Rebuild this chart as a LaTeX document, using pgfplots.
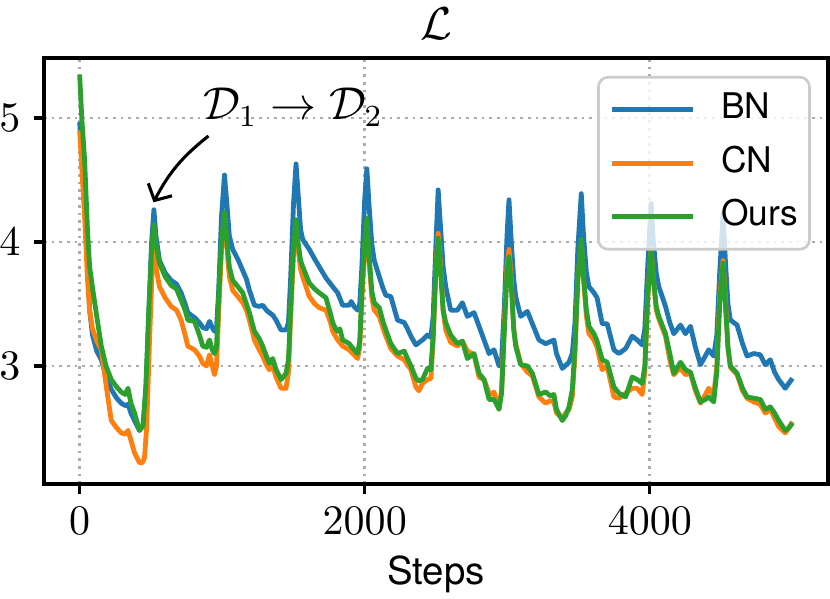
\documentclass[border=0pt]{standalone}
\usepackage{fontspec}
\setsansfont{TeX Gyre Heros}
\usepackage{pgfplots}
\pgfplotsset{compat=1.18}
\usetikzlibrary{arrows.meta}
\definecolor{cBN}{HTML}{1F77B4}
\definecolor{cCN}{HTML}{FF7F0E}
\definecolor{cOurs}{HTML}{2CA02C}
\begin{document}
\begin{tikzpicture}
\begin{axis}[
  scale only axis,
  width=204.17pt, height=110.94pt,
  xmin=-250, xmax=5250, ymin=2.048, ymax=5.484,
  xtick={0,2000,4000}, ytick={3,4,5},
  scaled x ticks=false,
  xticklabel style={/pgf/number format/1000 sep={}},
  tick align=outside, xtick pos=bottom, ytick pos=left,
  major tick length=2.6pt,
  every tick/.style={black, line width=0.8pt},
  axis line style={line width=0.8pt},
  ticklabel style={font=\fontsize{10.8}{12}\selectfont},
  grid=major,
  major grid style={black!33, line width=0.7pt, dash pattern=on 0.7pt off 1.3pt},
  title={$\mathcal{L}$},
  title style={font=\fontsize{13}{15}\selectfont, at={(0.5,1)}, anchor=base, inner sep=0pt, yshift=-1.3pt},
  xlabel={Steps},
  xlabel style={font=\sffamily\fontsize{10}{12}\selectfont, at={(0.5,0)}, anchor=base, inner sep=0pt, yshift=-26.3pt},
  legend style={at={(0.978,0.958)}, anchor=north east, draw=black!20, line width=0.7pt,
    rounded corners=2.5pt, fill=white, fill opacity=0.8, draw opacity=1, text opacity=1,
    font=\sffamily\fontsize{9.2}{11}\selectfont, inner xsep=3.0pt, inner ysep=4pt, row sep=4.9pt,
    nodes={inner sep=0pt, text height=6.8pt, text depth=2.2pt},
    /tikz/every odd column/.append style={column sep=6.8pt}},
  legend cell align=left,
  legend image code/.code={\draw[#1, line width=1.25pt] (0pt,0pt) -- (20.9pt,0pt);},
  every axis plot/.append style={line width=1.25pt, line join=round},
]
\addplot[cBN] coordinates {
(0,4.97) (15,4.70) (35,4.40) (55,3.90) (70,3.45) (90,3.25) (120,3.12) (152,3.05) (185,2.92) (222,2.81)
(260,2.74) (292,2.70) (320,2.68) (339,2.69) (360,2.62) (385,2.56) (420,2.48) (445,2.52) (465,2.80) (485,3.40)
(505,4.00) (521,4.26) (535,4.05) (560,3.85) (600,3.75) (642,3.69) (680,3.66) (712,3.59) (740,3.50) (759,3.43)
(806,3.39) (840,3.35) (864,3.31) (890,3.30) (911,3.36) (930,3.31) (946,3.28) (960,3.30) (975,3.60) (995,4.20)
(1016,4.54) (1030,4.35) (1050,4.05) (1074,3.94) (1110,3.86) (1144,3.77) (1170,3.70) (1191,3.61) (1226,3.49) (1260,3.48)
(1284,3.49) (1310,3.45) (1331,3.43) (1355,3.41) (1378,3.37) (1413,3.29) (1448,3.29) (1465,3.35) (1480,3.70) (1500,4.30)
(1518,4.63) (1532,4.40) (1550,4.10) (1565,4.02) (1611,3.94) (1650,3.86) (1681,3.80) (1728,3.71) (1775,3.64) (1810,3.59)
(1845,3.49) (1891,3.49) (1905,3.52) (1925,3.48) (1950,3.45) (1965,3.50) (1980,3.80) (2000,4.35) (2015,4.59) (2030,4.30)
(2050,3.98) (2067,3.85) (2102,3.72) (2130,3.62) (2148,3.57) (2183,3.56) (2230,3.37) (2277,3.35) (2300,3.30) (2324,3.24)
(2359,3.17) (2405,3.21) (2440,3.25) (2464,3.23) (2480,3.40) (2500,4.00) (2515,4.42) (2530,4.15) (2550,3.80) (2568,3.64)
(2603,3.45) (2650,3.45) (2685,3.51) (2720,3.40) (2767,3.43) (2802,3.32) (2837,3.21) (2872,3.10) (2907,3.13) (2942,3.00)
(2960,3.05) (2980,3.50) (2998,4.05) (3012,4.34) (3028,4.00) (3045,3.70) (3059,3.56) (3094,3.40) (3141,3.44) (3176,3.34)
(3222,3.21) (3269,3.18) (3310,3.20) (3327,3.21) (3345,3.10) (3386,2.98) (3433,3.03) (3456,3.10) (3475,3.35) (3495,3.95)
(3519,4.39) (3535,4.05) (3555,3.75) (3573,3.64) (3608,3.59) (3630,3.55) (3666,3.34) (3701,3.34) (3748,3.13) (3783,3.10)
(3830,3.14) (3876,3.24) (3911,3.21) (3946,3.17) (3965,3.30) (3985,3.80) (4009,4.31) (4025,4.00) (4045,3.75) (4063,3.64)
(4110,3.48) (4140,3.35) (4168,3.26) (4215,3.33) (4250,3.26) (4285,3.32) (4320,3.15) (4355,3.01) (4413,3.13) (4448,3.08)
(4470,3.25) (4490,3.75) (4514,4.23) (4530,3.85) (4548,3.50) (4565,3.37) (4612,3.33) (4650,3.18) (4682,3.08) (4729,3.10)
(4775,3.09) (4810,3.01) (4845,3.05) (4875,2.95) (4904,2.89) (4950,2.82) (4975,2.86) (5000,2.90)
};
\addlegendentry{BN}
\addplot[cCN] coordinates {
(0,4.90) (15,4.60) (35,4.20) (55,3.70) (70,3.45) (90,3.30) (120,3.20) (152,3.13) (185,2.85) (222,2.56)
(260,2.50) (292,2.46) (320,2.45) (339,2.48) (360,2.40) (385,2.30) (420,2.22) (440,2.22) (455,2.26) (470,2.50)
(490,3.20) (508,3.75) (521,3.96) (535,3.80) (560,3.64) (600,3.55) (642,3.48) (680,3.45) (712,3.37) (740,3.25)
(759,3.16) (806,3.13) (840,3.08) (864,3.02) (890,3.00) (911,3.09) (930,3.00) (946,2.93) (960,3.00) (978,3.50)
(998,4.00) (1016,4.20) (1030,4.00) (1050,3.72) (1074,3.61) (1110,3.56) (1144,3.51) (1170,3.45) (1191,3.37) (1226,3.21)
(1260,3.13) (1284,3.08) (1310,3.01) (1331,2.97) (1354,3.00) (1378,2.91) (1413,2.82) (1448,2.82) (1465,2.95) (1480,3.40)
(1500,3.90) (1518,4.12) (1532,3.95) (1550,3.78) (1565,3.72) (1611,3.56) (1650,3.50) (1681,3.47) (1728,3.45) (1760,3.35)
(1775,3.28) (1810,3.21) (1845,3.16) (1891,3.13) (1925,3.09) (1950,3.06) (1965,3.15) (1982,3.60) (2000,3.95) (2015,4.10)
(2030,3.85) (2050,3.55) (2067,3.45) (2102,3.40) (2130,3.30) (2148,3.24) (2183,3.14) (2230,3.08) (2277,3.05) (2300,3.01)
(2324,2.97) (2359,2.83) (2380,2.80) (2405,2.86) (2440,2.89) (2464,2.90) (2480,3.20) (2500,3.80) (2515,4.07) (2530,3.85)
(2550,3.45) (2568,3.29) (2603,3.19) (2650,3.16) (2685,3.20) (2720,3.12) (2767,3.09) (2802,2.91) (2837,2.89) (2850,2.85)
(2872,2.78) (2890,2.77) (2907,2.79) (2925,2.72) (2942,2.67) (2960,2.80) (2980,3.35) (2998,3.80) (3012,3.94) (3028,3.70)
(3045,3.30) (3059,3.18) (3094,3.02) (3141,2.95) (3176,2.92) (3222,2.75) (3269,2.70) (3300,2.72) (3327,2.71) (3345,2.62)
(3386,2.58) (3410,2.62) (3433,2.65) (3456,2.75) (3475,3.10) (3495,3.70) (3519,3.99) (3535,3.70) (3555,3.40) (3573,3.26)
(3608,3.21) (3630,3.15) (3666,2.97) (3701,3.00) (3748,2.75) (3783,2.74) (3830,2.78) (3876,2.82) (3911,2.82) (3946,2.77)
(3965,2.95) (3985,3.55) (4009,3.95) (4025,3.70) (4045,3.45) (4063,3.38) (4110,3.24) (4140,3.05) (4168,2.93) (4200,2.97)
(4215,2.98) (4250,2.93) (4285,2.94) (4320,2.80) (4355,2.70) (4390,2.77) (4413,2.82) (4448,2.76) (4470,3.00) (4490,3.55)
(4514,3.85) (4530,3.55) (4548,3.15) (4565,2.99) (4612,2.93) (4650,2.80) (4682,2.74) (4729,2.71) (4775,2.69) (4810,2.62)
(4845,2.65) (4875,2.58) (4904,2.51) (4950,2.46) (4975,2.50) (5000,2.55)
};
\addlegendentry{CN}
\addplot[cOurs] coordinates {
(0,5.35) (15,5.00) (35,4.66) (55,4.10) (70,3.80) (93,3.61) (120,3.40) (152,3.16) (185,3.00) (222,2.89)
(260,2.83) (292,2.79) (320,2.77) (339,2.82) (360,2.70) (385,2.62) (420,2.48) (445,2.52) (465,2.85) (485,3.45)
(505,3.95) (521,4.14) (535,3.98) (560,3.83) (600,3.72) (642,3.65) (680,3.62) (712,3.53) (740,3.45) (759,3.37)
(806,3.36) (840,3.25) (864,3.16) (890,3.15) (911,3.21) (930,3.13) (946,3.10) (960,3.15) (975,3.55) (995,4.00)
(1016,4.24) (1030,4.05) (1050,3.80) (1074,3.69) (1110,3.64) (1144,3.59) (1170,3.50) (1191,3.43) (1226,3.28) (1260,3.22)
(1284,3.16) (1310,3.08) (1331,3.02) (1354,3.06) (1378,2.97) (1413,2.89) (1448,2.94) (1465,3.05) (1480,3.45) (1500,3.95)
(1518,4.18) (1532,4.00) (1550,3.85) (1565,3.80) (1611,3.67) (1650,3.62) (1681,3.59) (1728,3.55) (1760,3.42) (1775,3.35)
(1795,3.30) (1810,3.28) (1825,3.30) (1845,3.21) (1891,3.18) (1925,3.13) (1950,3.10) (1965,3.20) (1982,3.65) (2000,4.00)
(2015,4.19) (2030,3.90) (2050,3.60) (2067,3.51) (2102,3.47) (2130,3.35) (2148,3.29) (2183,3.18) (2230,3.10) (2277,3.12)
(2300,3.06) (2324,3.00) (2359,2.90) (2380,2.88) (2405,2.89) (2440,2.98) (2464,2.97) (2480,3.25) (2500,3.80) (2515,4.03)
(2530,3.80) (2550,3.45) (2568,3.35) (2603,3.25) (2650,3.18) (2685,3.20) (2720,3.06) (2767,3.10) (2802,2.94) (2837,2.89)
(2872,2.73) (2907,2.73) (2942,2.65) (2960,2.78) (2980,3.30) (2998,3.75) (3012,3.88) (3028,3.65) (3045,3.30) (3059,3.16)
(3094,3.01) (3141,3.00) (3176,2.94) (3222,2.77) (3269,2.79) (3300,2.76) (3327,2.77) (3345,2.65) (3386,2.56) (3410,2.60)
(3433,2.67) (3456,2.81) (3475,3.15) (3495,3.70) (3519,4.02) (3535,3.72) (3555,3.45) (3573,3.32) (3608,3.26) (3630,3.20)
(3666,3.05) (3701,3.03) (3748,2.83) (3783,2.78) (3830,2.75) (3876,2.91) (3911,2.89) (3946,2.86) (3965,3.00) (3985,3.55)
(4009,3.94) (4025,3.70) (4045,3.48) (4063,3.40) (4110,3.26) (4140,3.10) (4168,2.94) (4200,3.00) (4215,3.03) (4250,2.97)
(4285,2.95) (4320,2.82) (4355,2.71) (4390,2.73) (4413,2.75) (4448,2.71) (4470,2.95) (4490,3.50) (4514,3.83) (4530,3.50)
(4548,3.15) (4565,3.00) (4612,2.94) (4650,2.82) (4682,2.75) (4729,2.74) (4775,2.73) (4810,2.65) (4845,2.67) (4875,2.62)
(4904,2.56) (4950,2.48) (4975,2.50) (5000,2.54)
};
\addlegendentry{Ours}
\node[inner sep=0pt, font=\fontsize{11.8}{14}\selectfont] at (axis cs:1499,5.085) {$\mathcal{D}_1\to\mathcal{D}_2$};
\draw[line width=0.8pt, -{Straight Barb[length=3.2pt,width=7pt,line width=0.8pt]}] (axis cs:904,4.855) to[bend right=12] (axis cs:518,4.32);
\end{axis}
\pgfresetboundingbox
\path ([xshift=-11.46pt,yshift=-29.69pt]current axis.south west) rectangle ([xshift=0.52pt,yshift=15.1pt]current axis.north east);
\end{tikzpicture}
\end{document}
